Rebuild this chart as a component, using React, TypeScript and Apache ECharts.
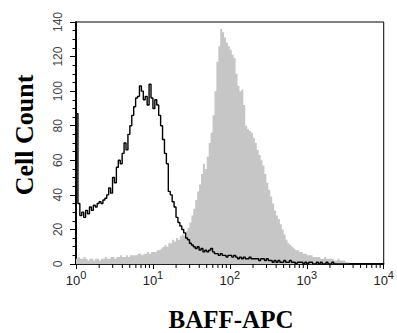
import React, { useEffect, useRef } from "react";
import * as echarts from "echarts";

// x positions are log10 of fluorescence, bins start at LOG_START with LOG_STEP spacing
const LOG_START = 0;
const LOG_STEP = 0.025;

// Filled grey histogram (BAFF-APC stained)
const stainedCounts = [
  3, 4, 3, 3, 4, 3, 2, 3, 3, 2,
  3, 3, 2, 3, 3, 4, 3, 3, 4, 4,
  3, 4, 4, 5, 4, 4, 5, 4, 5, 5,
  5, 5, 6, 6, 5, 6, 6, 7, 6, 7,
  7, 7, 8, 8, 9, 10, 11, 10, 12, 12,
  14, 13, 15, 14, 16, 17, 16, 19, 21, 24,
  28, 32, 37, 42, 46, 52, 58, 55, 62, 70,
  76, 86, 100, 117, 126, 136, 134, 131, 128, 126,
  124, 121, 119, 110, 103, 100, 101, 92, 80, 78,
  77, 76, 73, 70, 66, 63, 60, 57, 52, 47,
  43, 39, 35, 31, 28, 26, 23, 20, 17, 14,
  12, 11, 10, 9, 8, 8, 7, 7, 6, 6,
  5, 5, 5, 4, 4, 4, 4, 3, 3, 4,
  3, 3, 3, 3, 2, 2, 3, 2, 2, 2,
  1, 1, 0, 0, 0, 0, 0, 0, 0, 0,
  0, 0, 0, 0, 0, 0, 0, 0, 0, 0, 0,
];

// Black outline histogram (control)
const controlCounts = [
  87, 35, 28, 30, 27, 31, 29, 33, 31, 34,
  33, 35, 36, 35, 37, 38, 40, 44, 41, 50,
  47, 56, 60, 58, 64, 70, 66, 75, 80, 86,
  91, 96, 97, 103, 100, 95, 97, 92, 104, 96,
  90, 95, 92, 86, 80, 72, 64, 58, 42, 40,
  36, 33, 27, 24, 22, 20, 18, 15, 14, 12,
  11, 10, 9, 10, 8, 9, 7, 8, 7, 8,
  9, 7, 6, 6, 5, 6, 5, 5, 4, 5,
  5, 4, 5, 4, 3, 4, 3, 4, 3, 3,
  4, 3, 3, 3, 3, 2, 3, 3, 2, 3,
  2, 2, 1, 2, 1, 2, 1, 1, 2, 1,
  1, 2, 1, 1, 0, 1, 1, 1, 0, 1,
  0, 1, 1, 0, 0, 1, 0, 1, 0, 0,
  1, 0, 0, 1, 0, 0, 0, 0, 0, 0,
  0, 0, 0, 0, 0, 0, 0, 0, 0, 0,
  0, 0, 0, 0, 0, 0, 0, 0, 0, 0, 0,
];

const X_DECADES = [0, 1, 2, 3, 4];
const Y_TICKS = [0, 20, 40, 60, 80, 100, 120, 140];
const MINOR_MULTIPLIERS = [2, 3, 4, 5, 6, 7, 8, 9];

const X_TITLE = "BAFF-APC";
const Y_TITLE = "Cell Count";

export default function App() {
  const ref = useRef<HTMLDivElement>(null);

  useEffect(() => {
    if (!ref.current) return;
    const chart = echarts.init(ref.current, null, { renderer: "svg" });

    const toPairs = (arr: number[]) =>
      arr.map((v, i) => [LOG_START + i * LOG_STEP, v]);

    const minorTicks: number[][] = [];
    X_DECADES.slice(0, -1).forEach((d) =>
      MINOR_MULTIPLIERS.forEach((m) => minorTicks.push([d + Math.log10(m), 0]))
    );

    chart.setOption({
      animation: false,
      backgroundColor: "#ffffff",
      grid: {
        left: 76,
        top: 22,
        right: 8,
        bottom: 69,
        show: true,
        borderColor: "#000",
        borderWidth: 1,
        backgroundColor: "transparent",
      },
      xAxis: {
        type: "value",
        min: X_DECADES[0],
        max: X_DECADES[X_DECADES.length - 1],
        interval: 1,
        axisLine: { show: true, onZero: false, lineStyle: { color: "#000", width: 1.5 } },
        axisTick: { show: true, length: 5, lineStyle: { color: "#000", width: 1 } },
        splitLine: { show: false },
        axisLabel: {
          margin: 5,
          formatter: (v: number) => `{b|10}{s|${v}}`,
          rich: {
            b: {
              fontSize: 13,
              fontFamily: "Liberation Sans",
              color: "#222",
              lineHeight: 13,
              verticalAlign: "bottom",
            },
            s: {
              fontSize: 11,
              fontFamily: "Liberation Sans",
              color: "#222",
              lineHeight: 18,
              verticalAlign: "top",
            },
          },
        },
      },
      yAxis: {
        type: "value",
        min: Y_TICKS[0],
        max: Y_TICKS[Y_TICKS.length - 1],
        interval: 20,
        axisLine: { show: true, lineStyle: { color: "#000", width: 2 } },
        axisTick: { show: true, length: 6, lineStyle: { color: "#000", width: 1 } },
        minorTick: { show: true, splitNumber: 4, length: 3.5, lineStyle: { color: "#000", width: 1 } },
        splitLine: { show: false },
        axisLabel: {
          rotate: 90,
          margin: 12,
          fontSize: 12,
          fontFamily: "Liberation Sans",
          color: "#444",
        },
      },
      graphic: [
        {
          type: "text",
          x: 24,
          y: 135,
          rotation: Math.PI / 2,
          style: {
            text: Y_TITLE,
            font: "bold 26px 'Liberation Serif'",
            fill: "#000",
            align: "center",
            verticalAlign: "middle",
          },
        },
        {
          type: "text",
          x: 231,
          y: 319,
          style: {
            text: X_TITLE,
            font: "bold 25px 'Liberation Serif'",
            fill: "#000",
            align: "center",
            verticalAlign: "middle",
          },
        },
      ],
      series: [
        {
          type: "line",
          data: toPairs(stainedCounts),
          step: "end",
          showSymbol: false,
          symbol: "none",
          lineStyle: { width: 0, color: "#c6c6c6" },
          areaStyle: { color: "#c6c6c6", opacity: 1 },
          z: 1,
        },
        {
          type: "line",
          data: toPairs(controlCounts),
          step: "end",
          showSymbol: false,
          symbol: "none",
          lineStyle: { width: 1.4, color: "#000" },
          z: 3,
        },
        {
          type: "custom",
          data: minorTicks,
          clip: false,
          silent: true,
          z: 5,
          renderItem: (_params: any, api: any) => {
            const p = api.coord([api.value(0), 0]);
            return {
              type: "line",
              shape: { x1: p[0], y1: p[1], x2: p[0], y2: p[1] + 4 },
              style: { stroke: "#000", lineWidth: 1 },
            };
          },
        },
      ],
    });

    return () => chart.dispose();
  }, []);

  return (
    <div
      ref={ref}
      style={{ position: "fixed", left: 0, top: 0, width: 397, height: 333, background: "#fff" }}
    />
  );
}
